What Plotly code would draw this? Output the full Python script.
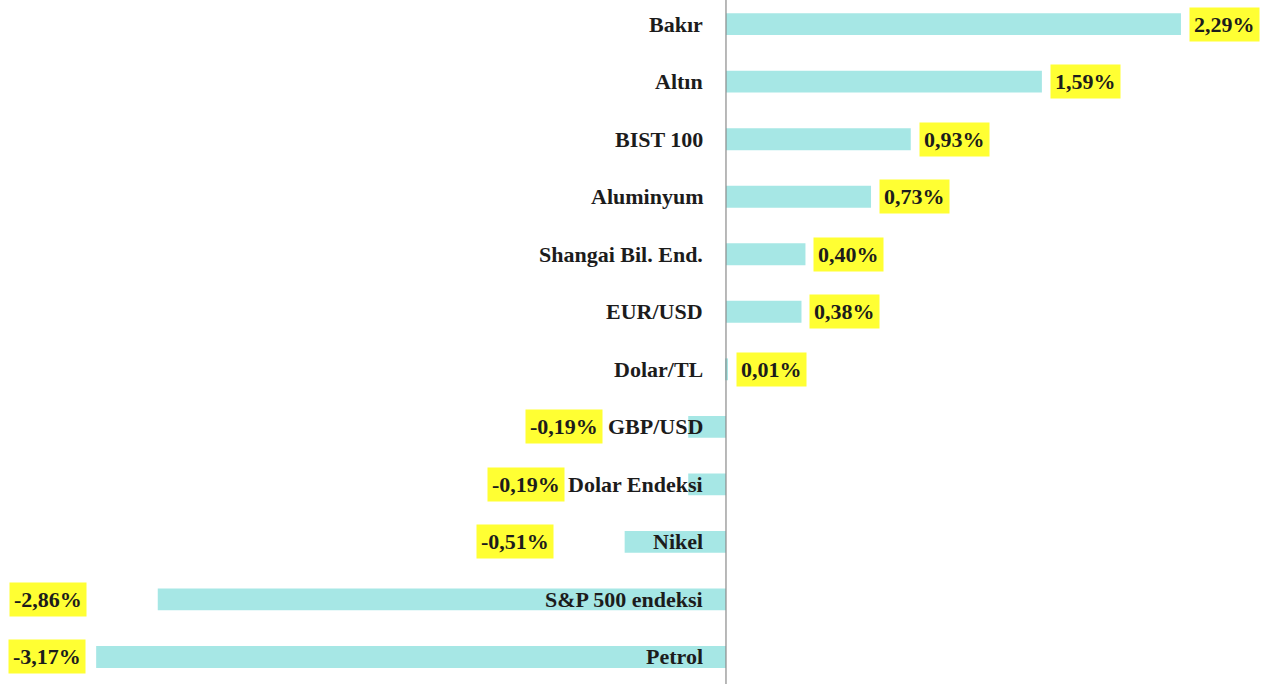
import plotly.graph_objects as go

categories = ["Petrol", "S&P 500 endeksi", "Nikel", "Dolar Endeksi", "GBP/USD",
              "Dolar/TL", "EUR/USD", "Shangai Bil. End.", "Aluminyum", "BIST 100",
              "Altın", "Bakır"]
values = [-3.17, -2.86, -0.51, -0.19, -0.19, 0.01, 0.38, 0.40, 0.73, 0.93, 1.59, 2.29]
labels = ["-3,17%", "-2,86%", "-0,51%", "-0,19%", "-0,19%", "0,01%", "0,38%", "0,40%",
          "0,73%", "0,93%", "1,59%", "2,29%"]

W, H = 1266, 684
X_MIN, X_MAX = -3.654, 2.718
PXU = W / (X_MAX - X_MIN)
FONT = "Liberation Serif"
FS = 22

# approximate Times-Bold advance widths (em) for label layout
_w = {c: 0.5 for c in "abcdeghknopquvxyz0123456789"}
_w.update({"i": 0.278, "l": 0.278, "t": 0.333, "f": 0.333, "r": 0.444, "s": 0.389,
           "j": 0.333, "m": 0.833, "w": 0.722, " ": 0.25, ".": 0.25, ",": 0.25,
           "/": 0.278, "&": 0.833, "%": 1.0, "-": 0.333, "ı": 0.278})
for c in "ABCDEFGHIJKLMNOPQRSTUVWXYZ":
    _w[c] = 0.72
_w.update({"P": 0.611, "B": 0.667, "E": 0.667, "S": 0.556, "G": 0.778, "N": 0.722})


def text_px(s):
    return sum(_w.get(c, 0.55) for c in s) * FS


fig = go.Figure()
fig.add_trace(go.Bar(
    x=values, y=categories, orientation="h",
    marker=dict(color="#A6E7E5", line=dict(width=0)),
    width=0.38, hoverinfo="skip",
))

annotations = []
for cat, v, lab in zip(categories, values, labels):
    annotations.append(dict(
        x=0, y=cat, xref="x", yref="y", xanchor="right", yanchor="middle",
        xshift=-21, showarrow=False,
        text="<b>" + cat + "</b>",
        font=dict(family=FONT, size=FS, color="#1c1c1c"),
    ))
    if v >= 0:
        annotations.append(dict(
            x=v, y=cat, xref="x", yref="y", xanchor="left", yanchor="middle",
            xshift=8, showarrow=False,
            text="<b>" + lab + "</b>", bgcolor="#FFFF33", borderpad=4,
            font=dict(family=FONT, size=FS, color="#1c1c1c"),
        ))
    else:
        cat_left = -(21 + text_px(cat) + 7) / PXU
        right = min(v - 71 / PXU, cat_left)
        right = max(right, X_MIN + 86 / PXU)
        annotations.append(dict(
            x=right, y=cat, xref="x", yref="y", xanchor="right", yanchor="middle",
            showarrow=False,
            text="<b>" + lab + "</b>", bgcolor="#FFFF33", borderpad=4,
            font=dict(family=FONT, size=FS, color="#1c1c1c"),
        ))

fig.update_layout(
    width=W, height=H,
    margin=dict(l=0, r=0, t=0, b=0),
    paper_bgcolor="white", plot_bgcolor="white",
    showlegend=False,
    annotations=annotations,
    xaxis=dict(range=[X_MIN, X_MAX], visible=False, fixedrange=True),
    yaxis=dict(range=[-0.47, 11.42], visible=False, fixedrange=True,
               categoryorder="array", categoryarray=categories),
    shapes=[dict(type="line", xref="x", yref="paper", x0=0, x1=0, y0=0, y1=1,
                 line=dict(color="#8a8a8a", width=1.2))],
)

fig.write_html("out.html", config={"displayModeBar": False},
               post_script="document.body.style.margin='0';document.body.style.overflow='hidden';")
